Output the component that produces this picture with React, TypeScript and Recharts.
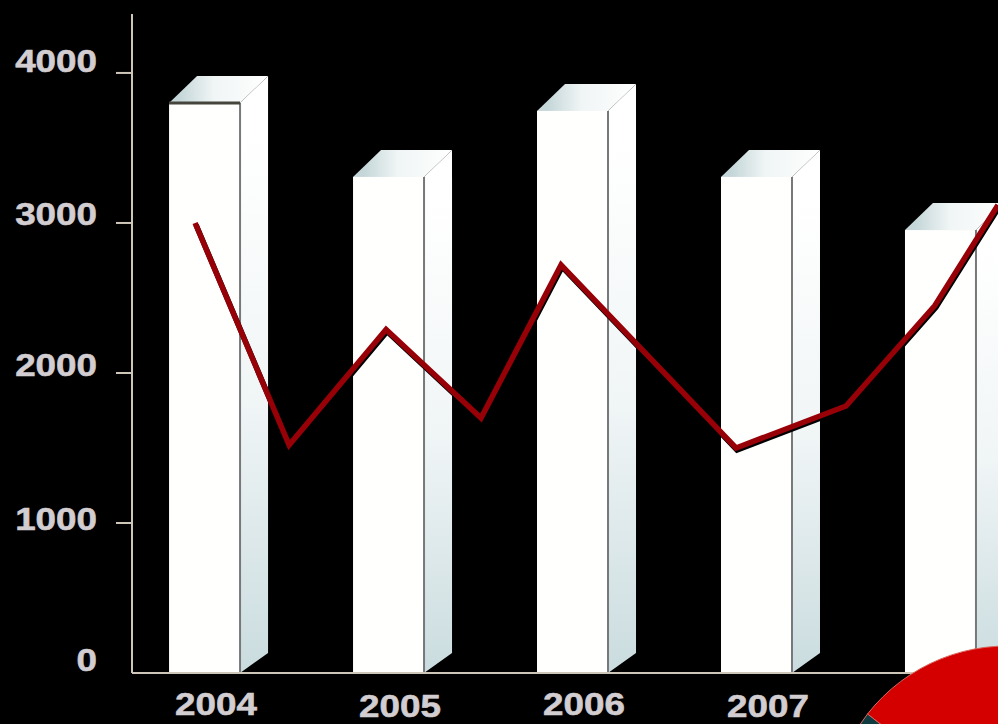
import { Bar, Cell, ComposedChart, Line, Pie, PieChart, XAxis, YAxis } from "recharts";

// bars sit on whole years, the line zigzags between them
const years = [2004, 2005, 2006, 2007, 2008];
const barValues = [3800, 3307, 3747, 3307, 2953];
const linePositions = [2003.946, 2004.457, 2004.984, 2005.5, 2005.935, 2006.886, 2007.484, 2007.967, 2008.31];
const lineValues = [3000, 1520, 2290, 1700, 2720, 1500, 1780, 2450, 3120];
const yTicks = [0, 1000, 2000, 3000, 4000];
const pieValues = [120, 240];
const pieColors = ["#d40000", "#0f3a40"];

const barRows = years.map((year, i) => ({ x: year, bar: barValues[i] }));
const lineRows = linePositions.map((x, i) => ({ x, line: lineValues[i] }));

const LABEL_COLOR = "#d2cdd0";
const AXIS_COLOR = "#cfc6ba";
const FONT = "'Liberation Sans', Arial, sans-serif";
const X_DOMAIN = [2003.603, 2008.31];
// the labels in the source are not quite evenly placed
const yLabelNudge: Record<number, number> = { 0: -3, 1000: 6, 2000: 2, 3000: 1, 4000: -2 };

function Bar3D({ x, y, width, height, index }: any) {
  if (!height) return null;
  const dx = 28;
  const dy = 27;
  const right = x + width;
  const bottom = y + height;
  return (
    <g>
      <polygon
        points={`${right},${y} ${right + dx},${y - dy} ${right + dx},${bottom - 20} ${right},${bottom}`}
        fill="url(#sideFade)"
      />
      <polygon
        points={`${x},${y} ${x + dx},${y - dy} ${right + dx},${y - dy} ${right},${y}`}
        fill="url(#topFade)"
      />
      <rect x={x} y={y} width={width} height={height} fill="#fffffd" />
      <line x1={right} y1={y} x2={right} y2={bottom} stroke="#77787a" strokeWidth={2} />
      {index === 0 && <line x1={x} y1={y} x2={right} y2={y} stroke="#45453c" strokeWidth={3} />}
    </g>
  );
}

function WideLabel({ x, y, anchor, children }: any) {
  return (
    <text
      transform={`translate(${x},${y}) scale(1.15,1)`}
      textAnchor={anchor}
      fill={LABEL_COLOR}
      stroke={LABEL_COLOR}
      strokeWidth={0.6}
      fontFamily={FONT}
      fontSize={32}
      fontWeight="bold"
    >
      {children}
    </text>
  );
}

function YTick({ x, y, payload }: any) {
  return (
    <g>
      {payload.value !== 0 && <line x1={x - 8} y1={y} x2={x + 8} y2={y} stroke={AXIS_COLOR} strokeWidth={2} />}
      <WideLabel x={97} y={y + 1 + yLabelNudge[payload.value]} anchor="end">
        {payload.value}
      </WideLabel>
    </g>
  );
}

function XTick({ x, payload }: any) {
  const low = payload.value === 2005 || payload.value === 2007;
  return (
    <WideLabel x={x + 11} y={low ? 717 : 715} anchor="middle">
      {payload.value}
    </WideLabel>
  );
}

export default function App() {
  return (
    <div style={{ position: "absolute", left: 0, top: 0, width: 998, height: 724, background: "#000", overflow: "hidden" }}>
      <ComposedChart width={998} height={724} data={barRows} margin={{ top: 14, right: 0, bottom: 0, left: 0 }}>
        <defs>
          <linearGradient id="sideFade" x1="0" y1="0" x2="0" y2="1">
            <stop offset="0.1" stopColor="#ffffff" />
            <stop offset="0.55" stopColor="#f0f5f6" />
            <stop offset="1" stopColor="#cadcdf" />
          </linearGradient>
          <linearGradient id="topFade" x1="0" y1="0" x2="1" y2="0">
            <stop offset="0.1" stopColor="#c4d6d8" />
            <stop offset="0.45" stopColor="#f0f5f5" />
            <stop offset="1" stopColor="#ffffff" />
          </linearGradient>
        </defs>
        <XAxis
          dataKey="x"
          type="number"
          domain={X_DOMAIN}
          ticks={years}
          height={51}
          allowDataOverflow
          tick={XTick}
          tickLine={false}
          interval={0}
          axisLine={{ stroke: AXIS_COLOR, strokeWidth: 2 }}
        />
        <XAxis xAxisId="line" dataKey="x" type="number" domain={X_DOMAIN} height={0} allowDataOverflow hide />
        <YAxis
          type="number"
          domain={[0, 4393]}
          ticks={yTicks}
          width={132}
          tick={YTick}
          tickLine={false}
          interval={0}
          axisLine={{ stroke: AXIS_COLOR, strokeWidth: 2 }}
        />
        <Bar dataKey="bar" barSize={71} shape={Bar3D} isAnimationActive={false} />
        <Line
          data={lineRows}
          xAxisId="line"
          dataKey="line"
          type="linear"
          stroke="#980008"
          strokeWidth={5.5}
          dot={false}
          style={{ filter: "drop-shadow(1px 2px 0 #000)" }}
          isAnimationActive={false}
        />
      </ComposedChart>
      <div style={{ position: "absolute", left: 0, top: 0 }}>
        <PieChart width={998} height={724} margin={{ top: 0, right: 0, bottom: 0, left: 0 }}>
          <Pie
            data={pieValues.map((value) => ({ value }))}
            dataKey="value"
            cx={1007}
            cy={823}
            innerRadius={0}
            outerRadius={177}
            startAngle={142}
            endAngle={-218}
            stroke="#d9675e"
            strokeWidth={1}
            isAnimationActive={false}
          >
            {pieValues.map((_, i) => (
              <Cell key={i} fill={pieColors[i]} />
            ))}
          </Pie>
        </PieChart>
      </div>
    </div>
  );
}
